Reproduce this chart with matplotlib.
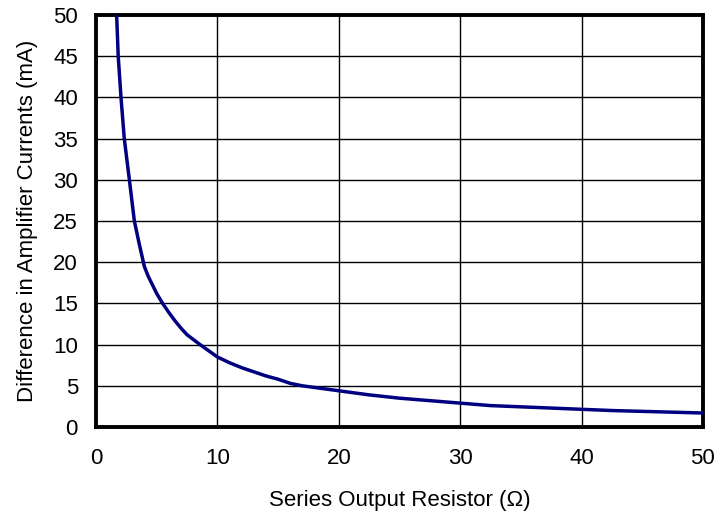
import matplotlib.pyplot as plt

plt.rcParams['font.family'] = ['Liberation Sans', 'DejaVu Sans']

# values
resistance = [1.7, 1.83, 2.06, 2.33, 2.75, 3.16, 3.55, 3.98, 4.3, 5.0, 5.49, 6.0, 6.5, 7.0, 7.5,
              8.57, 10, 11, 12, 13, 14, 15, 16, 17, 18, 20, 22.5, 25, 27.5, 30, 32.5, 35, 37.5,
              40, 42.5, 45, 47.5, 50]
current_diff = [50, 45, 40, 35, 30, 25, 22.3, 19.5, 18.3, 16.2, 15, 13.9, 12.9, 12.0, 11.2,
                10, 8.5, 7.8, 7.2, 6.7, 6.2, 5.8, 5.3, 5.0, 4.8, 4.4, 3.9, 3.5, 3.2, 2.9, 2.6, 2.45, 2.3,
                2.15, 2.0, 1.9, 1.8, 1.7]

x_ticks = [0, 10, 20, 30, 40, 50]
y_ticks = [0, 5, 10, 15, 20, 25, 30, 35, 40, 45, 50]

fig = plt.figure(figsize=(7.18, 5.13), dpi=100)
ax = fig.add_axes([0.1337, 0.1676, 0.8453, 0.8032])

ax.plot(resistance, current_diff, color='#000080', linewidth=2.5, zorder=3)

ax.set_xlim(0, 50)
ax.set_ylim(0, 50)
ax.set_xticks(x_ticks)
ax.set_yticks(y_ticks)
ax.grid(True, color='black', linewidth=1.0)
ax.tick_params(length=0, labelsize=16)
ax.tick_params(axis='x', pad=15)
ax.tick_params(axis='y', pad=13)
for s in ax.spines.values():
    s.set_linewidth(2.8)
    s.set_color('black')

ax.set_xlabel('Series Output Resistor (Ω)', fontsize=16, labelpad=15)
ax.set_ylabel('Difference in Amplifier Currents (mA)', fontsize=16, labelpad=11)

fig.savefig('out.png', dpi=100)
